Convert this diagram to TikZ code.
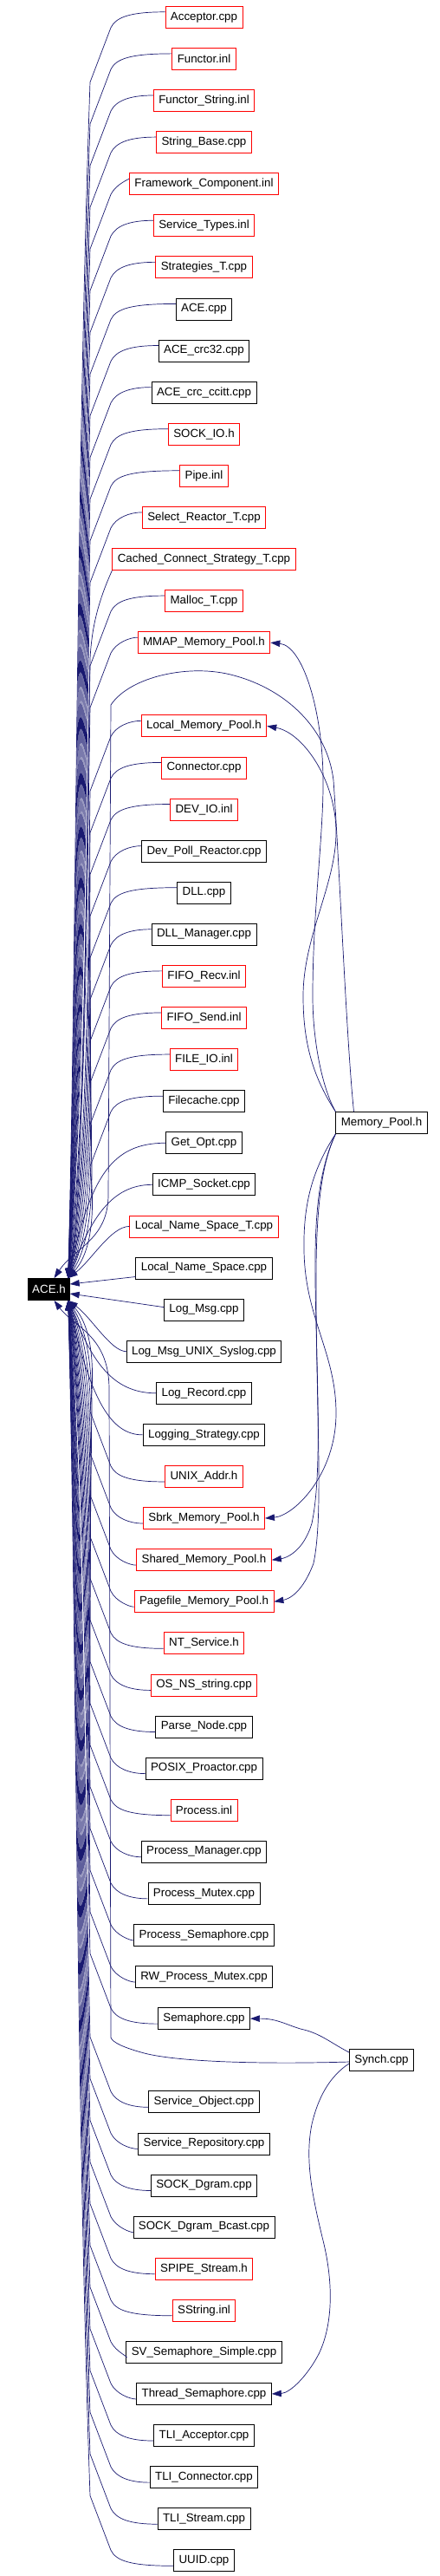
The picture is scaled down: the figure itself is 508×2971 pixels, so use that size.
\documentclass[tikz,border=0pt]{standalone}
\usepackage{fontspec}
\setmainfont{Liberation Sans}
\usetikzlibrary{arrows.meta}
\definecolor{edgeblue}{RGB}{25,25,112}
\definecolor{boxred}{RGB}{255,0,0}
\tikzset{
  file/.style={draw=#1, fill=white, line width=0.8pt, font=\fontsize{13.33}{16}\selectfont,
    minimum height=25pt, inner xsep=6pt, inner ysep=0pt},
  file/.default=black,
  dep/.style={draw=edgeblue, line width=0.7pt, -{Triangle[length=11pt,width=7.5pt]}}
}
\begin{document}
\begin{tikzpicture}[x=1pt,y=-1pt]
\useasboundingbox (0,0) rectangle (508,2971);

% the included header
\node[file, fill=black, text=white, inner xsep=4.5pt] (ace) at (56.5,1487) {ACE.h};

% files that include it, one per row
\foreach \i/\txt/\col in {
  0/Acceptor.cpp/boxred, 1/Functor.inl/boxred, 2/Functor\_String.inl/boxred,
  3/String\_Base.cpp/boxred, 4/Framework\_Component.inl/boxred,
  5/Service\_Types.inl/boxred, 6/Strategies\_T.cpp/boxred, 7/ACE.cpp/black,
  8/ACE\_crc32.cpp/black, 9/ACE\_crc\_ccitt.cpp/black, 10/SOCK\_IO.h/boxred,
  11/Pipe.inl/boxred, 12/Select\_Reactor\_T.cpp/boxred,
  13/Cached\_Connect\_Strategy\_T.cpp/boxred, 14/Malloc\_T.cpp/boxred,
  15/MMAP\_Memory\_Pool.h/boxred, 17/Local\_Memory\_Pool.h/boxred,
  18/Connector.cpp/boxred, 19/DEV\_IO.inl/boxred, 20/Dev\_Poll\_Reactor.cpp/black,
  21/DLL.cpp/black, 22/DLL\_Manager.cpp/black, 23/FIFO\_Recv.inl/boxred,
  24/FIFO\_Send.inl/boxred, 25/FILE\_IO.inl/boxred, 26/Filecache.cpp/black,
  27/Get\_Opt.cpp/black, 28/ICMP\_Socket.cpp/black,
  29/Local\_Name\_Space\_T.cpp/boxred, 30/Local\_Name\_Space.cpp/black,
  31/Log\_Msg.cpp/black, 32/Log\_Msg\_UNIX\_Syslog.cpp/black,
  33/Log\_Record.cpp/black, 34/Logging\_Strategy.cpp/black,
  35/UNIX\_Addr.h/boxred, 36/Sbrk\_Memory\_Pool.h/boxred,
  37/Shared\_Memory\_Pool.h/boxred, 38/Pagefile\_Memory\_Pool.h/boxred,
  39/NT\_Service.h/boxred, 40/OS\_NS\_string.cpp/boxred, 41/Parse\_Node.cpp/black,
  42/POSIX\_Proactor.cpp/black, 43/Process.inl/boxred,
  44/Process\_Manager.cpp/black, 45/Process\_Mutex.cpp/black,
  46/Process\_Semaphore.cpp/black, 47/RW\_Process\_Mutex.cpp/black,
  48/Semaphore.cpp/black, 50/Service\_Object.cpp/black,
  51/Service\_Repository.cpp/black, 52/SOCK\_Dgram.cpp/black,
  53/SOCK\_Dgram\_Bcast.cpp/black, 54/SPIPE\_Stream.h/boxred,
  55/SString.inl/boxred, 56/SV\_Semaphore\_Simple.cpp/black,
  57/Thread\_Semaphore.cpp/black, 58/TLI\_Acceptor.cpp/black,
  59/TLI\_Connector.cpp/black, 60/TLI\_Stream.cpp/black, 61/UUID.cpp/black}
  \node[file=\col] (n\i) at (235.5,{19.8+48.09*\i}) {\txt};

% second level
\node[file] (mpool) at (440.5,1295) {Memory\_Pool.h};
\node[file] (synch) at (440.5,2376) {Synch.cpp};

% long edges from above
\foreach \i in {0,...,12,14,15,17,18,...,26}{
  \pgfmathsetmacro\y{19.8+48.09*\i}
  \pgfmathsetmacro\v{88+0.8*\i}
  \pgfmathsetmacro\d{1472-\y-75}
  \draw[dep] ([yshift=6pt]n\i.west) .. controls (150,{\y-6}) and (134,\y) .. (128,{\y+12})
    -- (104,{\y+75}) .. controls (\v,{\y+75+\d/3}) and (\v,{1472-\d/4}) .. ([xshift=-2pt]ace.north east);
}
\draw[dep] (n13.south west) .. controls (115,690) and (106,720) .. (104,760)
  .. controls (99,1000) and (98,1380) .. ([xshift=-2pt]ace.north east);

% short edges near the header
\foreach \i in {27,28,29}{
  \pgfmathsetmacro\y{19.8+48.09*\i}
  \draw[dep] (n\i.west) .. controls (128,\y) and (105,{\y+40}) .. ([xshift=-2pt]ace.north east);
}
\draw[dep] ([yshift=-10pt]n30.west) -- ([yshift=6pt]ace.east);
\draw[dep] ([yshift=3pt]n31.west) -- ([yshift=-5pt]ace.east);
\foreach \i in {32,33,34}{
  \pgfmathsetmacro\y{19.8+48.09*\i}
  \draw[dep] (n\i.west) .. controls (128,\y) and (105,{\y-40}) .. ([xshift=-2pt]ace.south east);
}

% long edges from below
\foreach \i in {35,...,48,50,51,...,61}{
  \pgfmathsetmacro\y{19.8+48.09*\i}
  \pgfmathsetmacro\v{88+0.8*(61-\i)}
  \pgfmathsetmacro\d{\y-75-1502}
  \draw[dep] ([yshift=-6pt]n\i.west) .. controls (150,{\y+6}) and (134,\y) .. (128,{\y-12})
    -- (104,{\y-75}) .. controls (\v,{\y-75-\d/3}) and (\v,{1502+\d/4}) .. ([xshift=-2pt]ace.south east);
}

% Memory_Pool.h
\draw[dep] ([xshift=-32pt]mpool.north) .. controls (400,1200) and (392,1000) .. (385,900)
  .. controls (378,840) and (330,795) .. (270,779) .. controls (220,765) and (150,780) .. (128,813)
  -- (125,1380) .. controls (124,1430) and (85,1440) .. ([xshift=6pt]ace.north);
\draw[dep] (mpool.north west) .. controls (372,1255) and (361,1200) .. (361,1149)
  .. controls (361,1050) and (374,960) .. (373,896) .. controls (372,820) and (350,745) .. (n15.east);
\draw[dep] (mpool.north west) .. controls (360,1240) and (350,1200) .. (350,1149)
  .. controls (350,1080) and (388,1020) .. (388,960) .. controls (388,900) and (350,845) .. (n17.east);
\draw[dep] (mpool.south west) .. controls (360,1350) and (350,1390) .. (351,1442)
  .. controls (352,1520) and (388,1560) .. (388,1630) .. controls (388,1700) and (340,1748) .. (n36.east);
\draw[dep] (mpool.south west) .. controls (368,1350) and (363,1400) .. (364,1480)
  .. controls (366,1600) and (372,1700) .. (360,1757) .. controls (350,1790) and (330,1797) .. (n37.east);
\draw[dep] (mpool.south west) .. controls (370,1345) and (364,1400) .. (365,1500)
  .. controls (366,1650) and (373,1750) .. (362,1803) .. controls (350,1835) and (335,1844) .. (n38.east);

% Synch.cpp
\draw[dep] ([yshift=9pt]synch.west) .. controls (380,2355) and (370,2345) .. (347,2340)
  .. controls (330,2335) and (320,2328) .. (n48.east);
\draw[dep] ([yshift=-2pt]synch.west) .. controls (300,2381) and (200,2378) .. (163,2367)
  .. controls (145,2362) and (130,2356) .. (128,2350)
  -- (126,1600) .. controls (125,1540) and (85,1530) .. ([xshift=6pt]ace.south);
\draw[dep] ([yshift=-4pt]synch.west) .. controls (380,2395) and (367,2420) .. (360,2450)
  .. controls (352,2490) and (360,2530) .. (372,2580) .. controls (385,2630) and (385,2680) .. (368,2715)
  .. controls (355,2740) and (335,2760) .. (n57.east);
\end{tikzpicture}
\end{document}
